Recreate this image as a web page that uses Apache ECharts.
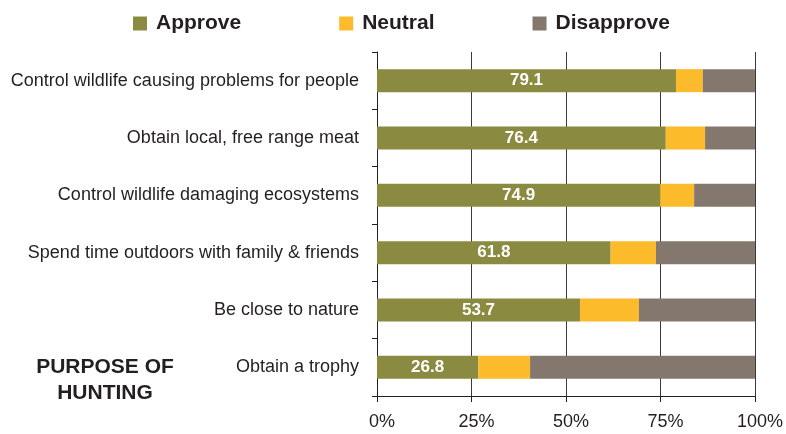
<!DOCTYPE html>
<html>
<head>
<meta charset="utf-8">
<script src="https://cdn.jsdelivr.net/npm/echarts@6/dist/echarts.min.js"></script>
<style>
  html, body { margin: 0; padding: 0; background: #fff; }
  #chart { width: 786px; height: 434px; }
</style>
</head>
<body>
<div id="chart"></div>
<script>
const categories = [
  "Control wildlife causing problems for people",
  "Obtain local, free range meat",
  "Control wildlife damaging ecosystems",
  "Spend time outdoors with family & friends",
  "Be close to nature",
  "Obtain a trophy"
];
const approve = [79.1, 76.4, 74.9, 61.8, 53.7, 26.8];
const neutral = [7.1, 10.4, 9.0, 12.0, 15.6, 13.7];
const disapprove = [13.8, 13.2, 16.1, 26.2, 30.7, 59.5];
const xTicks = [0, 25, 50, 75, 100];

const font = "'Liberation Sans', Arial, sans-serif";

const chart = echarts.init(document.getElementById("chart"));

function barSeries(name, data, color, showLabel) {
  return {
    type: "bar",
    name: name,
    stack: "total",
    data: data,
    barWidth: 23,
    itemStyle: { color: color },
    label: {
      show: showLabel,
      position: "inside",
      color: "#fff",
      fontFamily: font,
      fontWeight: "bold",
      fontSize: 17
    }
  };
}

chart.setOption({
  animation: false,
  textStyle: { fontFamily: font },
  legend: {
    top: 8,
    left: 128,
    itemWidth: 14,
    itemHeight: 14,
    itemGap: 98,
    icon: "rect",
    textStyle: {
      fontFamily: font,
      fontWeight: "bold",
      fontSize: 21,
      color: "#231f20",
      padding: [0, 0, 0, 4]
    },
    data: ["Approve", "Neutral", "Disapprove"]
  },
  grid: { left: 377, right: 31, top: 52, bottom: 38 },
  xAxis: {
    type: "value",
    min: xTicks[0],
    max: xTicks[xTicks.length - 1],
    interval: 25,
    axisLine: { show: true, lineStyle: { color: "#231f20", width: 1 } },
    axisTick: { show: true, length: 6, lineStyle: { color: "#231f20" } },
    splitLine: { show: true, lineStyle: { color: "#3a3a3a", width: 1 } },
    axisLabel: {
      formatter: "{value}%",
      fontSize: 18,
      color: "#231f20",
      margin: 17,
      padding: [0, 0, 0, 10]
    }
  },
  yAxis: {
    type: "category",
    inverse: true,
    data: categories,
    axisLine: { show: true, lineStyle: { color: "#231f20", width: 1 } },
    axisTick: { show: true, length: 5, lineStyle: { color: "#231f20" } },
    axisLabel: { fontSize: 18, color: "#231f20", margin: 18 }
  },
  graphic: [
    {
      type: "text",
      x: 105,
      y: 354,
      style: {
        text: "PURPOSE OF\nHUNTING",
        font: "bold 21px " + font,
        fill: "#231f20",
        align: "center",
        lineHeight: 26
      }
    }
  ],
  series: [
    barSeries("Approve", approve, "#8a8a40", true),
    barSeries("Neutral", neutral, "#fbbb2a", false),
    barSeries("Disapprove", disapprove, "#83776e", false)
  ]
});
</script>
</body>
</html>
